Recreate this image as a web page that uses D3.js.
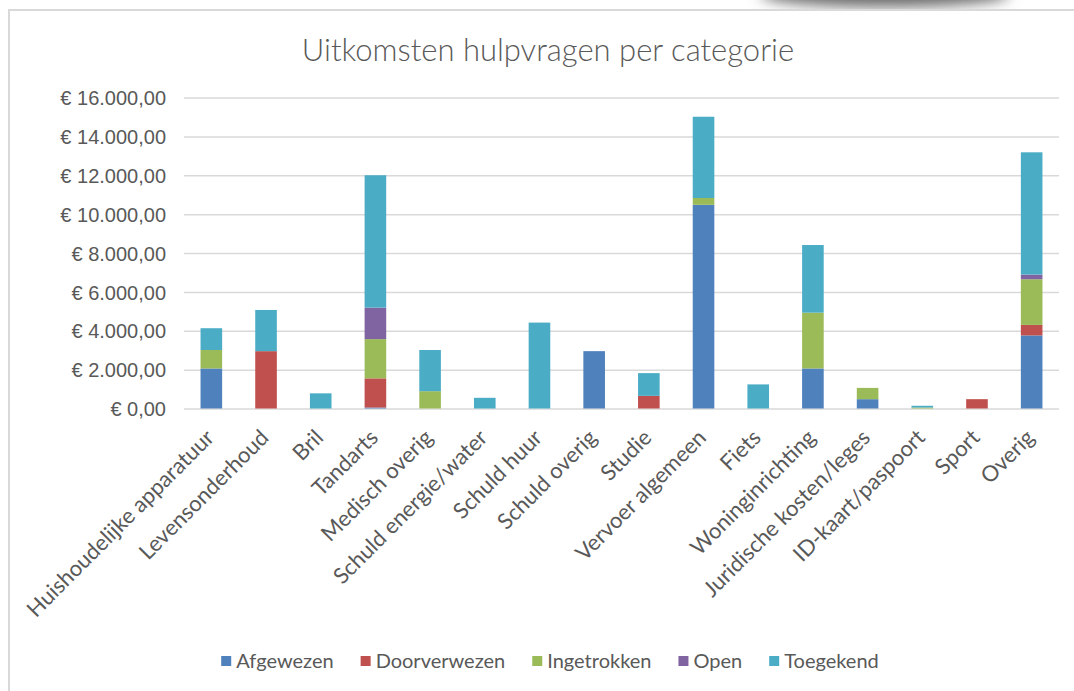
<!DOCTYPE html>
<html>
<head>
<meta charset="utf-8">
<script src="https://cdn.jsdelivr.net/npm/d3@7"></script>
<style>
  body { margin: 0; background: #fff; }
  svg { display: block; font-family: Lato, "Open Sans", sans-serif; }
</style>
</head>
<body>
<svg id="chart" width="1074" height="691"></svg>
<script>
const categories = ["Huishoudelijke apparatuur", "Levensonderhoud", "Bril", "Tandarts", "Medisch overig",
  "Schuld energie/water", "Schuld huur", "Schuld overig", "Studie", "Vervoer algemeen", "Fiets",
  "Woninginrichting", "Juridische kosten/leges", "ID-kaart/paspoort", "Sport", "Overig"];

const seriesNames = ["Afgewezen", "Doorverwezen", "Ingetrokken", "Open", "Toegekend"];
const seriesColors = ["#4f81bd", "#c0504d", "#9bbb59", "#8064a2", "#4bacc6"];

const afgewezen    = [2060, 0, 0, 50, 0, 0, 0, 2950, 0, 10480, 0, 2060, 480, 0, 0, 3760];
const doorverwezen = [0, 2950, 0, 1500, 0, 0, 0, 0, 650, 0, 0, 0, 0, 0, 480, 540];
const ingetrokken  = [950, 0, 0, 2020, 890, 0, 0, 0, 0, 350, 0, 2870, 580, 50, 0, 2350];
const open         = [0, 0, 0, 1620, 0, 0, 0, 0, 0, 0, 0, 0, 0, 0, 0, 240];
const toegekend    = [1120, 2120, 780, 6810, 2120, 550, 4420, 0, 1170, 4180, 1240, 3480, 0, 90, 0, 6290];

const yTicks = [0, 2000, 4000, 6000, 8000, 10000, 12000, 14000, 16000];

const seriesValues = [afgewezen, doorverwezen, ingetrokken, open, toegekend];
const rows = categories.map((c, i) => {
  let r = {cat: c};
  seriesNames.forEach((s, k) => r[s] = seriesValues[k][i]);
  return r;
});

const svg = d3.select("#chart");
const textColor = "#595959";
const gridColor = "#d9d9d9";

// shadow blob at the top right
const defs = svg.append("defs");
defs.append("filter").attr("id", "blur")
  .attr("x", "-50%").attr("y", "-200%").attr("width", "200%").attr("height", "500%")
  .append("feGaussianBlur").attr("stdDeviation", 7);
defs.append("clipPath").attr("id", "topclip")
  .append("rect").attr("x", 0).attr("y", 0).attr("width", 1074).attr("height", 9);
svg.append("g").attr("clip-path", "url(#topclip)")
  .append("ellipse")
  .attr("cx", 885).attr("cy", -6).attr("rx", 125).attr("ry", 13)
  .attr("fill", "#6a6a6a").attr("filter", "url(#blur)");

// chart frame (top and left edge)
svg.append("line").attr("x1", 8).attr("x2", 1074).attr("y1", 10).attr("y2", 10)
  .attr("stroke", gridColor).attr("stroke-width", 2);
svg.append("line").attr("x1", 9).attr("x2", 9).attr("y1", 10).attr("y2", 691)
  .attr("stroke", gridColor).attr("stroke-width", 2);

const x = d3.scaleBand()
  .domain(categories)
  .range([184, 1059])
  .paddingInner(0.605)
  .paddingOuter(0.3025);

const y = d3.scaleLinear()
  .domain([0, 16000])
  .range([408.5, 97.5]);

// title
svg.append("text")
  .attr("x", 548).attr("y", 61)
  .attr("text-anchor", "middle")
  .attr("fill", textColor)
  .style("font-size", "31px")
  .style("font-weight", 300)
  .text("Uitkomsten hulpvragen per categorie");

// gridlines + y labels
const yAxis = d3.axisLeft(y)
  .tickValues(yTicks)
  .tickSize(-(1059 - 184))
  .tickPadding(18)
  .tickFormat(d => "€ " + d3.format(",.2f")(d).replace(/,/g, "#").replace(".", ",").replace(/#/g, "."));

const gy = svg.append("g")
  .attr("transform", "translate(184,0)")
  .call(yAxis);
gy.select(".domain").remove();
gy.selectAll(".tick line").attr("stroke", gridColor).attr("stroke-width", 1.5);
gy.selectAll(".tick text")
  .attr("fill", textColor)
  .style("font-size", "20px")
  .attr("dy", "0.36em");

// stacked bars
const stack = d3.stack().keys(seriesNames);
const layers = stack(rows);

svg.append("g")
  .selectAll("g")
  .data(layers)
  .join("g")
  .attr("fill", (d, i) => seriesColors[i])
  .selectAll("rect")
  .data(d => d.filter(p => p[1] - p[0] > 0))
  .join("rect")
  .attr("x", d => x(d.data.cat))
  .attr("width", x.bandwidth())
  .attr("y", d => y(d[1]))
  .attr("height", d => y(d[0]) - y(d[1]));

// x labels
svg.append("g")
  .selectAll("text")
  .data(categories)
  .join("text")
  .attr("transform", d => `translate(${x(d) + x.bandwidth() / 2 + 4},${439}) rotate(-45)`)
  .attr("text-anchor", "end")
  .attr("fill", textColor)
  .style("font-size", "22px")
  .text(d => d);

// legend
const legend = svg.append("g");
let lx = 0;
seriesNames.forEach((s, i) => {
  const item = legend.append("g").attr("transform", `translate(${lx},0)`);
  item.append("rect")
    .attr("x", 0).attr("y", -5).attr("width", 10).attr("height", 10)
    .attr("fill", seriesColors[i]);
  const t = item.append("text")
    .attr("x", 15).attr("dy", "0.36em")
    .attr("fill", textColor)
    .style("font-size", "20px")
    .text(s);
  lx += 15 + t.node().getComputedTextLength() + 27;
});
const legendWidth = lx - 27;
legend.attr("transform", `translate(${550 - legendWidth / 2},661)`);
</script>
</body>
</html>
